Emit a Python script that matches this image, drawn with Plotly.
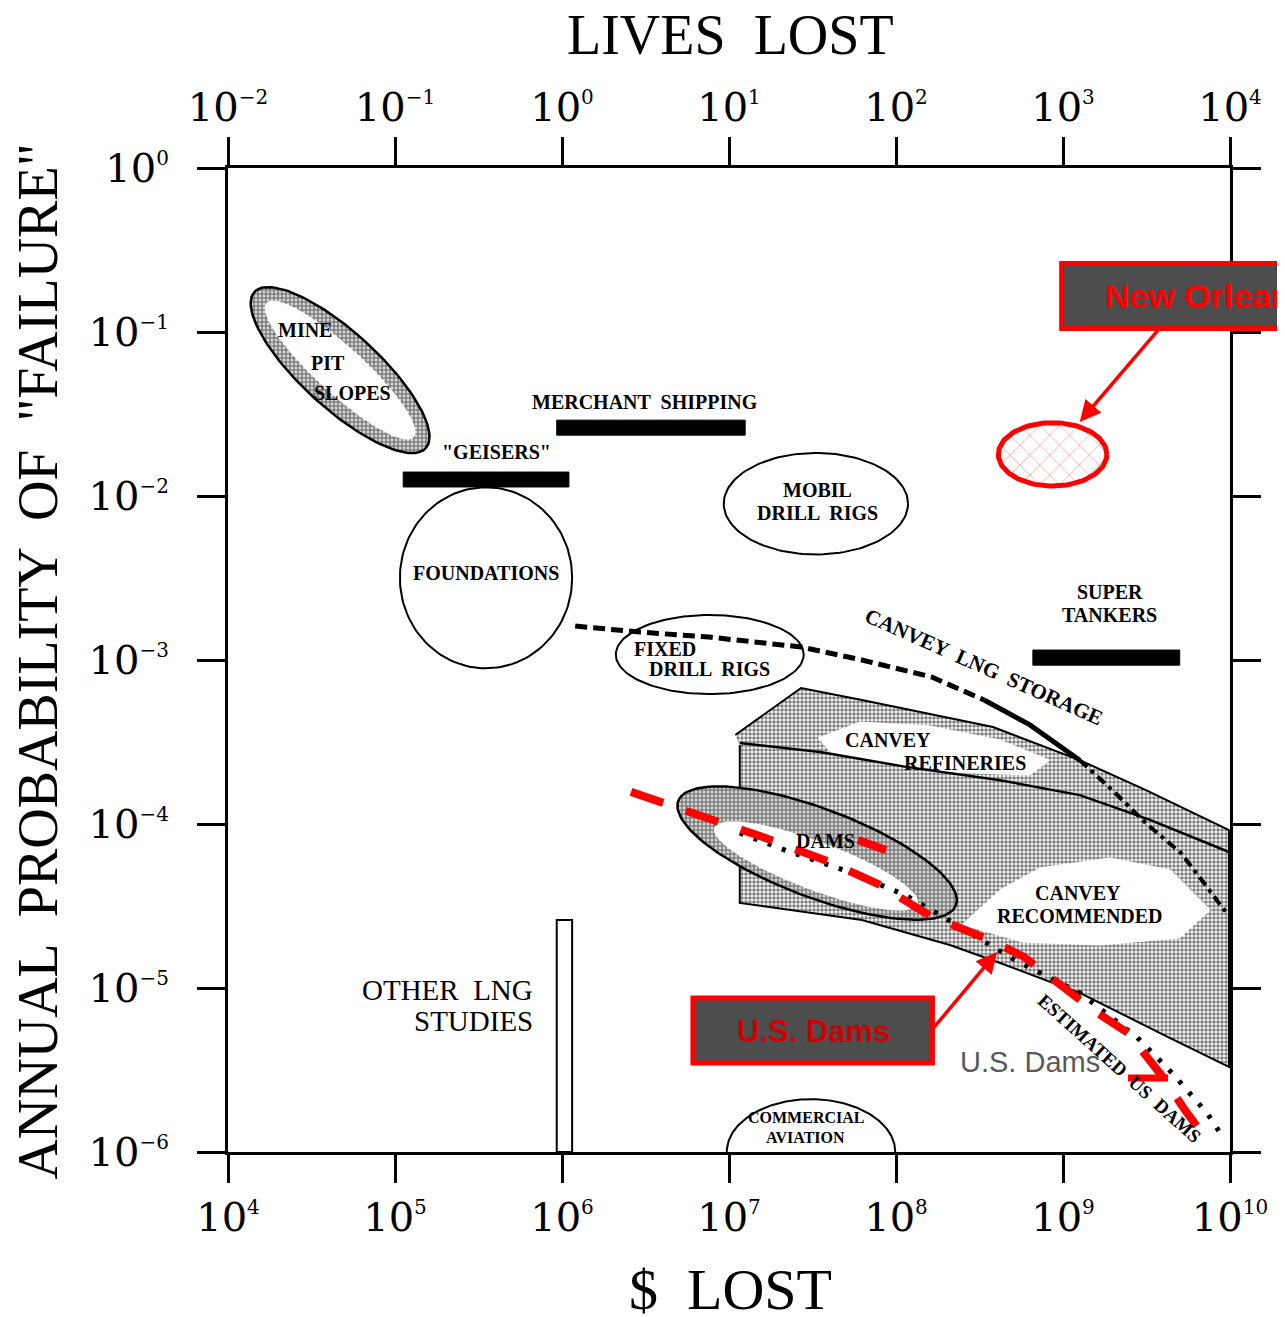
import numpy as np
import plotly.graph_objects as go

# ---------------- axis ticks ----------------
SUP = "<sup><span style='font-size:20px'>{}</span></sup>"
dollar_tick_vals = [1e4, 1e5, 1e6, 1e7, 1e8, 1e9, 1e10]
dollar_tick_exp = ["4", "5", "6", "7", "8", "9", "10"]
lives_tick_vals = [1e-2, 1e-1, 1e0, 1e1, 1e2, 1e3, 1e4]
lives_tick_exp = ["−2", "−1", "0", "1", "2", "3", "4"]
prob_tick_vals = [1e0, 1e-1, 1e-2, 1e-3, 1e-4, 1e-5, 1e-6]
prob_tick_exp = ["0", "−1", "−2", "−3", "−4", "−5", "−6"]

# ---------------- regions (ellipses, $ range / probability range) ----------------
foundations_dollars = [1.07e5, 1.15e6]
foundations_prob = [8.9e-4, 1.13e-2]
mobil_dollars = [9.3e6, 1.18e8]
mobil_prob = [4.4e-3, 1.83e-2]
fixed_dollars = [2.1e6, 2.8e7]
fixed_prob = [6.2e-4, 1.88e-3]
new_orleans_dollars = [4.1e8, 1.83e9]
new_orleans_prob = [1.15e-2, 2.8e-2]
aviation_dollars = [9.7e6, 9.9e7]
aviation_prob = [1e-6, 2.1e-6]

# tilted regions: centre ($, prob), semi-axes in decades, tilt
mine_pit_centre = [4.69e4, 0.0586]
mine_pit_axes_outer = [0.70, 0.23]
mine_pit_axes_inner = [0.60, 0.14]
mine_pit_tilt = -43
dams_centre_outer = [3.37e7, 6.65e-5]
dams_centre_inner = [3.32e7, 5.55e-5]
dams_axes_outer = [0.89, 0.27]
dams_axes_inner = [0.65, 0.145]
dams_tilt = -21

# ---------------- bars ----------------
geisers_dollars = [1.12e5, 1.10e6]
geisers_prob = [1.135e-2, 1.40e-2]
merchant_dollars = [9.3e5, 1.25e7]
merchant_prob = [2.35e-2, 2.9e-2]
tankers_dollars = [6.6e8, 5.0e9]
tankers_prob = [9.3e-4, 1.15e-3]
other_lng_dollars = [9.3e5, 1.15e6]
other_lng_prob = [1e-6, 2.6e-5]

# ---------------- Canvey band (polygons) ----------------
band_dollars = [1.09e7, 2.70e7, 6.25e7, 3.81e8, 1.26e9, 3.14e9, 9.86e9, 9.86e9,
                4.26e9, 1.26e9, 4.20e8, 2.10e8, 6.25e7, 1.16e7, 1.16e7]
band_prob = [3.49e-4, 6.75e-4, 5.70e-4, 3.90e-4, 2.45e-4, 1.61e-4, 9.18e-5, 3.30e-6,
             5.02e-6, 9.33e-6, 1.42e-5, 1.83e-5, 2.60e-5, 3.30e-5, 3.03e-4]
refineries_dollars = [3.41e7, 6.08e7, 1.60e8, 4.20e8, 8.36e8, 6.34e8, 2.10e8, 8.02e7, 4.03e7]
refineries_prob = [3.34e-4, 4.19e-4, 3.96e-4, 3.25e-4, 2.45e-4, 1.99e-4, 2.07e-4, 2.39e-4, 2.75e-4]
recommended_dollars = [2.48e8, 4.20e8, 7.28e8, 1.91e9, 4.38e9, 7.59e9, 5.02e9, 1.67e9, 5.53e8]
recommended_prob = [2.42e-5, 3.96e-5, 5.40e-5, 6.21e-5, 5.25e-5, 2.99e-5, 2.02e-5, 1.83e-5, 1.91e-5]
separator_dollars = [1.16e7, 3.51e7, 1.15e8, 4.20e8, 1.26e9, 3.32e9, 9.86e9]
separator_prob = [3.12e-4, 2.75e-4, 2.23e-4, 1.85e-4, 1.50e-4, 1.06e-4, 6.75e-5]

# ---------------- curves ----------------
canvey_lng_dollars = [1.20e6, 2.93e6, 7.59e6, 2.70e7, 6.25e7, 1.64e8, 3.37e8, 6.34e8,
                      1.26e9, 2.05e9, 3.14e9, 5.09e9, 7.28e9, 9.72e9]
canvey_lng_prob = [1.61e-3, 1.48e-3, 1.38e-3, 1.20e-3, 1.0e-3, 7.87e-4, 5.70e-4, 4.02e-4,
                   2.45e-4, 1.55e-4, 1.01e-4, 6.65e-5, 4.13e-5, 2.79e-5]
us_dams_dollars = [1.16e7, 2.32e7, 5.31e7, 1.13e8, 1.83e8, 5.16e8, 1.26e9, 2.77e9, 4.50e9, 7.28e9, 9.33e9]
us_dams_prob = [8.81e-5, 6.75e-5, 5.09e-5, 3.69e-5, 2.79e-5, 1.48e-5, 9.33e-6, 5.02e-6, 3.03e-6, 1.73e-6, 1.18e-6]
red_dams_dollars = [2.59e6, 6.70e6, 1.53e7, 4.03e7, 8.02e7, 1.60e8, 3.66e8, 5.83e8, 9.59e8,
                    1.51e9, 2.45e9, 3.97e9, 5.38e9, 7.28e9]
red_dams_prob = [1.57e-4, 1.14e-4, 8.45e-5, 5.86e-5, 4.25e-5, 2.75e-5, 1.96e-5, 1.55e-5, 1.04e-5,
                 7.35e-6, 5.32e-6, 2.86e-6, 1.80e-6, 1.18e-6]
red_extra_dollars = [5.92e7, 8.71e7]
red_extra_prob = [7.98e-5, 6.93e-5]
red_chevron_dollars = [2.45e9, 4.26e9]
red_chevron_prob = [2.83e-6, 2.83e-6]

# ---------------- arrows ----------------
no_arrow_head = [1.26e9, 2.83e-2]
no_arrow_tail = [3.81e9, 0.106]
dams_arrow_head = [4.03e8, 1.66e-5]
dams_arrow_tail = [1.64e8, 5.55e-6]

# ---------------- text labels ----------------
label_text = ["MINE", "PIT", "SLOPES", '"GEISERS"', "MERCHANT  SHIPPING", "FOUNDATIONS",
              "MOBIL", "DRILL  RIGS", "FIXED", "DRILL  RIGS", "SUPER", "TANKERS",
              "CANVEY", "REFINERIES", "DAMS", "CANVEY", "RECOMMENDED", "COMMERCIAL", "AVIATION"]
label_dollars = [2.89e4, 3.97e4, 5.53e4, 4.08e5, 3.14e6, 3.51e5,
                 3.37e7, 3.41e7, 4.14e6, 7.69e6, 1.91e9, 1.91e9,
                 8.95e7, 2.59e8, 3.76e7, 1.23e9, 1.26e9, 2.89e7, 2.89e7]
label_prob = [0.103, 0.0647, 0.0425, 0.0185, 0.0374, 3.39e-3,
              0.0109, 7.87e-3, 1.17e-3, 8.81e-4, 2.60e-3, 1.88e-3,
              3.25e-4, 2.36e-4, 7.87e-5, 3.79e-5, 2.75e-5, 1.63e-6, 1.23e-6]
other_lng_text = ["OTHER  LNG", "STUDIES"]
other_lng_text_dollars = [6.89e5, 6.89e5]
other_lng_text_prob = [9.73e-6, 6.30e-6]

SERIF = "Liberation Serif"
TICKSERIF = "DejaVu Serif"
SANS = "Liberation Sans"


def ellipse(cx, cy, a, b, tilt, half=False, n=140):
    t = np.linspace(0, np.pi if half else 2 * np.pi, n)
    th = np.radians(tilt)
    ex, ey = a * np.cos(t), b * np.sin(t)
    lx = np.log10(cx) + ex * np.cos(th) - ey * np.sin(th)
    ly = np.log10(cy) + ex * np.sin(th) + ey * np.cos(th)
    return list(10 ** lx), list(10 ** ly)


def ellipse_from_ranges(xr, yr, half=False):
    cx = np.sqrt(xr[0] * xr[1])
    a = np.log10(xr[1] / xr[0]) / 2
    if half:
        return ellipse(cx, yr[0], a, np.log10(yr[1] / yr[0]), 0, half=True)
    cy = np.sqrt(yr[0] * yr[1])
    b = np.log10(yr[1] / yr[0]) / 2
    return ellipse(cx, cy, a, b, 0)


def rect(xr, yr):
    return [xr[0], xr[1], xr[1], xr[0], xr[0]], [yr[0], yr[0], yr[1], yr[1], yr[0]]


fig = go.Figure()


def poly(x, y, fill="white", line_color="black", lw=2, pattern=None):
    kw = dict(x=x, y=y, mode="lines", fill="toself", fillcolor=fill,
              line=dict(color=line_color, width=lw), hoverinfo="skip", showlegend=False)
    if pattern is not None:
        kw["fillpattern"] = pattern
    fig.add_trace(go.Scatter(**kw))


def line(x, y, color="black", width=4, dash="solid"):
    fig.add_trace(go.Scatter(x=x, y=y, mode="lines", line=dict(color=color, width=width, dash=dash),
                             hoverinfo="skip", showlegend=False))


stipple = dict(shape=".", fgcolor="#000000", bgcolor="white", size=4, solidity=0.62)
stipple_dark = dict(shape=".", fgcolor="#000000", bgcolor="white", size=4, solidity=0.75)

# Canvey band
poly(band_dollars, band_prob, fill="rgba(0,0,0,0)", lw=2, pattern=stipple)
poly(refineries_dollars, refineries_prob, fill="white", line_color="white", lw=1)
poly(recommended_dollars, recommended_prob, fill="white", line_color="white", lw=1)
line(separator_dollars, separator_prob, width=2.5)

# Dams ellipse
ex, ey = ellipse(*dams_centre_outer, *dams_axes_outer, dams_tilt)
poly(ex, ey, fill="rgba(0,0,0,0)", lw=2.5, pattern=stipple_dark)
ex, ey = ellipse(*dams_centre_inner, *dams_axes_inner, dams_tilt)
poly(ex, ey, fill="white", line_color="white", lw=1)

# Mine pit slopes
ex, ey = ellipse(*mine_pit_centre, *mine_pit_axes_outer, mine_pit_tilt)
poly(ex, ey, fill="rgba(0,0,0,0)", lw=2.5, pattern=stipple_dark)
ex, ey = ellipse(*mine_pit_centre, *mine_pit_axes_inner, mine_pit_tilt)
poly(ex, ey, fill="white", line_color="white", lw=1)

# Plain ellipses
for xr, yr in [(foundations_dollars, foundations_prob), (mobil_dollars, mobil_prob),
               (fixed_dollars, fixed_prob)]:
    ex, ey = ellipse_from_ranges(xr, yr)
    poly(ex, ey, fill="rgba(255,255,255,0)", lw=2)
ex, ey = ellipse_from_ranges(aviation_dollars, aviation_prob, half=True)
poly(ex, ey, fill="white", lw=2)

# Curves
line(canvey_lng_dollars[:7], canvey_lng_prob[:7], width=5, dash="12px,6px")
line(canvey_lng_dollars[6:9], canvey_lng_prob[6:9], width=5)
line(canvey_lng_dollars[8:], canvey_lng_prob[8:], width=4, dash="10px,5px,4px,5px")
line(us_dams_dollars, us_dams_prob, width=5, dash="4px,11px")

# Bars
for xr, yr in [(geisers_dollars, geisers_prob), (merchant_dollars, merchant_prob),
               (tankers_dollars, tankers_prob)]:
    rx, ry = rect(xr, yr)
    poly(rx, ry, fill="black", lw=1)
rx, ry = rect(other_lng_dollars, other_lng_prob)
poly(rx, ry, fill="white", lw=2)

# Red overlays
line(red_dams_dollars, red_dams_prob, color="#ff0000", width=8, dash="34px,24px")
line(red_extra_dollars, red_extra_prob, color="#ff0000", width=8)
line(red_chevron_dollars, red_chevron_prob, color="#ff0000", width=7)
ex, ey = ellipse_from_ranges(new_orleans_dollars, new_orleans_prob)
poly(ex, ey, fill="rgba(0,0,0,0)", line_color="#ff0000", lw=5,
     pattern=dict(shape="x", fgcolor="#ff5050", bgcolor="white", size=14, solidity=0.12))

# invisible trace on the top axis
fig.add_trace(go.Scatter(x=[1e-2, 1e4], y=[1e-6, 1e-6], xaxis="x2", mode="markers",
                         marker=dict(opacity=0), hoverinfo="skip", showlegend=False))

annotations = []
for i, (t, xd, yd) in enumerate(zip(label_text, label_dollars, label_prob)):
    size = 16 if t in ("COMMERCIAL", "AVIATION") else 20
    annotations.append(dict(x=np.log10(xd), y=np.log10(yd), text="<b>" + t + "</b>", showarrow=False,
                            font=dict(family=SERIF, size=size, color="black"),
                            xanchor="center", yanchor="middle"))
for t, xd, yd in zip(other_lng_text, other_lng_text_dollars, other_lng_text_prob):
    annotations.append(dict(x=np.log10(xd), y=np.log10(yd), text=t, showarrow=False,
                            font=dict(family=SERIF, size=29, color="black"),
                            xanchor="right", yanchor="middle"))
annotations.append(dict(x=np.log10(3.37e8), y=np.log10(9.06e-4), text="<b>CANVEY  LNG  STORAGE</b>",
                        showarrow=False, textangle=24,
                        font=dict(family=SERIF, size=21, color="black")))
annotations.append(dict(x=np.log10(2.19e9), y=np.log10(3.25e-6), text="<b>ESTIMATED  US  DAMS</b>",
                        showarrow=False, textangle=42,
                        font=dict(family=SERIF, size=19, color="black")))
annotations.append(dict(x=np.log10(6.34e8), y=np.log10(3.54e-6), text="U.S. Dams",
                        showarrow=False, font=dict(family=SANS, size=29, color="#595959")))

# Boxes text
annotations.append(dict(xref="paper", yref="paper", x=0.873, y=0.870, text="<b>New Orleans</b>",
                        showarrow=False, xanchor="left", yanchor="middle",
                        font=dict(family=SANS, size=34, color="#ff0000")))
annotations.append(dict(xref="paper", yref="paper", x=0.584, y=0.122, text="<b>U.S. Dams</b>",
                        showarrow=False, xanchor="center", yanchor="middle",
                        font=dict(family=SANS, size=31, color="#d00000")))

# Arrows
for head, tail in [(no_arrow_head, no_arrow_tail), (dams_arrow_head, dams_arrow_tail)]:
    annotations.append(dict(x=np.log10(head[0]), y=np.log10(head[1]),
                            ax=np.log10(tail[0]), ay=np.log10(tail[1]),
                            axref="x", ayref="y", xref="x", yref="y", text="",
                            showarrow=True, arrowhead=2, arrowsize=1.2, arrowwidth=3.5,
                            arrowcolor="#ff0000"))

# Axis titles
annotations.append(dict(xref="paper", yref="paper", x=0.501, y=1.135, text="LIVES  LOST",
                        xanchor="center", yanchor="middle",
                        showarrow=False, font=dict(family=SERIF, size=56, color="black")))
annotations.append(dict(xref="paper", yref="paper", x=0.501, y=-0.140, text="$  LOST",
                        xanchor="center", yanchor="middle",
                        showarrow=False, font=dict(family=SERIF, size=58, color="black")))
annotations.append(dict(xref="paper", yref="paper", x=-0.190, y=0.498,
                        text='ANNUAL  PROBABILITY  OF  "FAILURE"', textangle=-90,
                        xanchor="center", yanchor="middle",
                        showarrow=False, font=dict(family=SERIF, size=56, color="black")))

shapes = [
    dict(type="rect", xref="paper", yref="paper", x0=0.832, x1=1.16, y0=0.837, y1=0.903,
         fillcolor="#4d4d4d", line=dict(color="#ff0000", width=5), layer="above"),
    dict(type="rect", xref="paper", yref="paper", x0=0.464, x1=0.703, y0=0.0904, y1=0.1565,
         fillcolor="#4d4d4d", line=dict(color="#ff0000", width=5), layer="above"),
]

tickfont = dict(family=TICKSERIF, size=40, color="black")
axis_common = dict(type="log", showgrid=False, zeroline=False, showline=True, linecolor="black",
                   linewidth=3, ticks="outside", ticklen=28, tickwidth=2.5, tickcolor="black",
                   tickfont=tickfont)

fig.update_layout(
    width=1285, height=1317,
    margin=dict(l=220, r=63, t=160, b=173),
    paper_bgcolor="white", plot_bgcolor="white",
    showlegend=False,
    xaxis=dict(range=[4, 10], tickvals=dollar_tick_vals,
               ticktext=["10" + SUP.format(e) for e in dollar_tick_exp], **axis_common),
    xaxis2=dict(range=[-2, 4], tickvals=lives_tick_vals,
                ticktext=["10" + SUP.format(e) for e in lives_tick_exp],
                overlaying="x", side="top", anchor="y", **axis_common),
    yaxis=dict(range=[-6, 0], tickvals=prob_tick_vals,
               ticktext=["10" + SUP.format(e) for e in prob_tick_exp], mirror="ticks",
               ticklabelstandoff=20, **axis_common),
    annotations=annotations,
    shapes=shapes,
)

fig.write_html("out.html")
